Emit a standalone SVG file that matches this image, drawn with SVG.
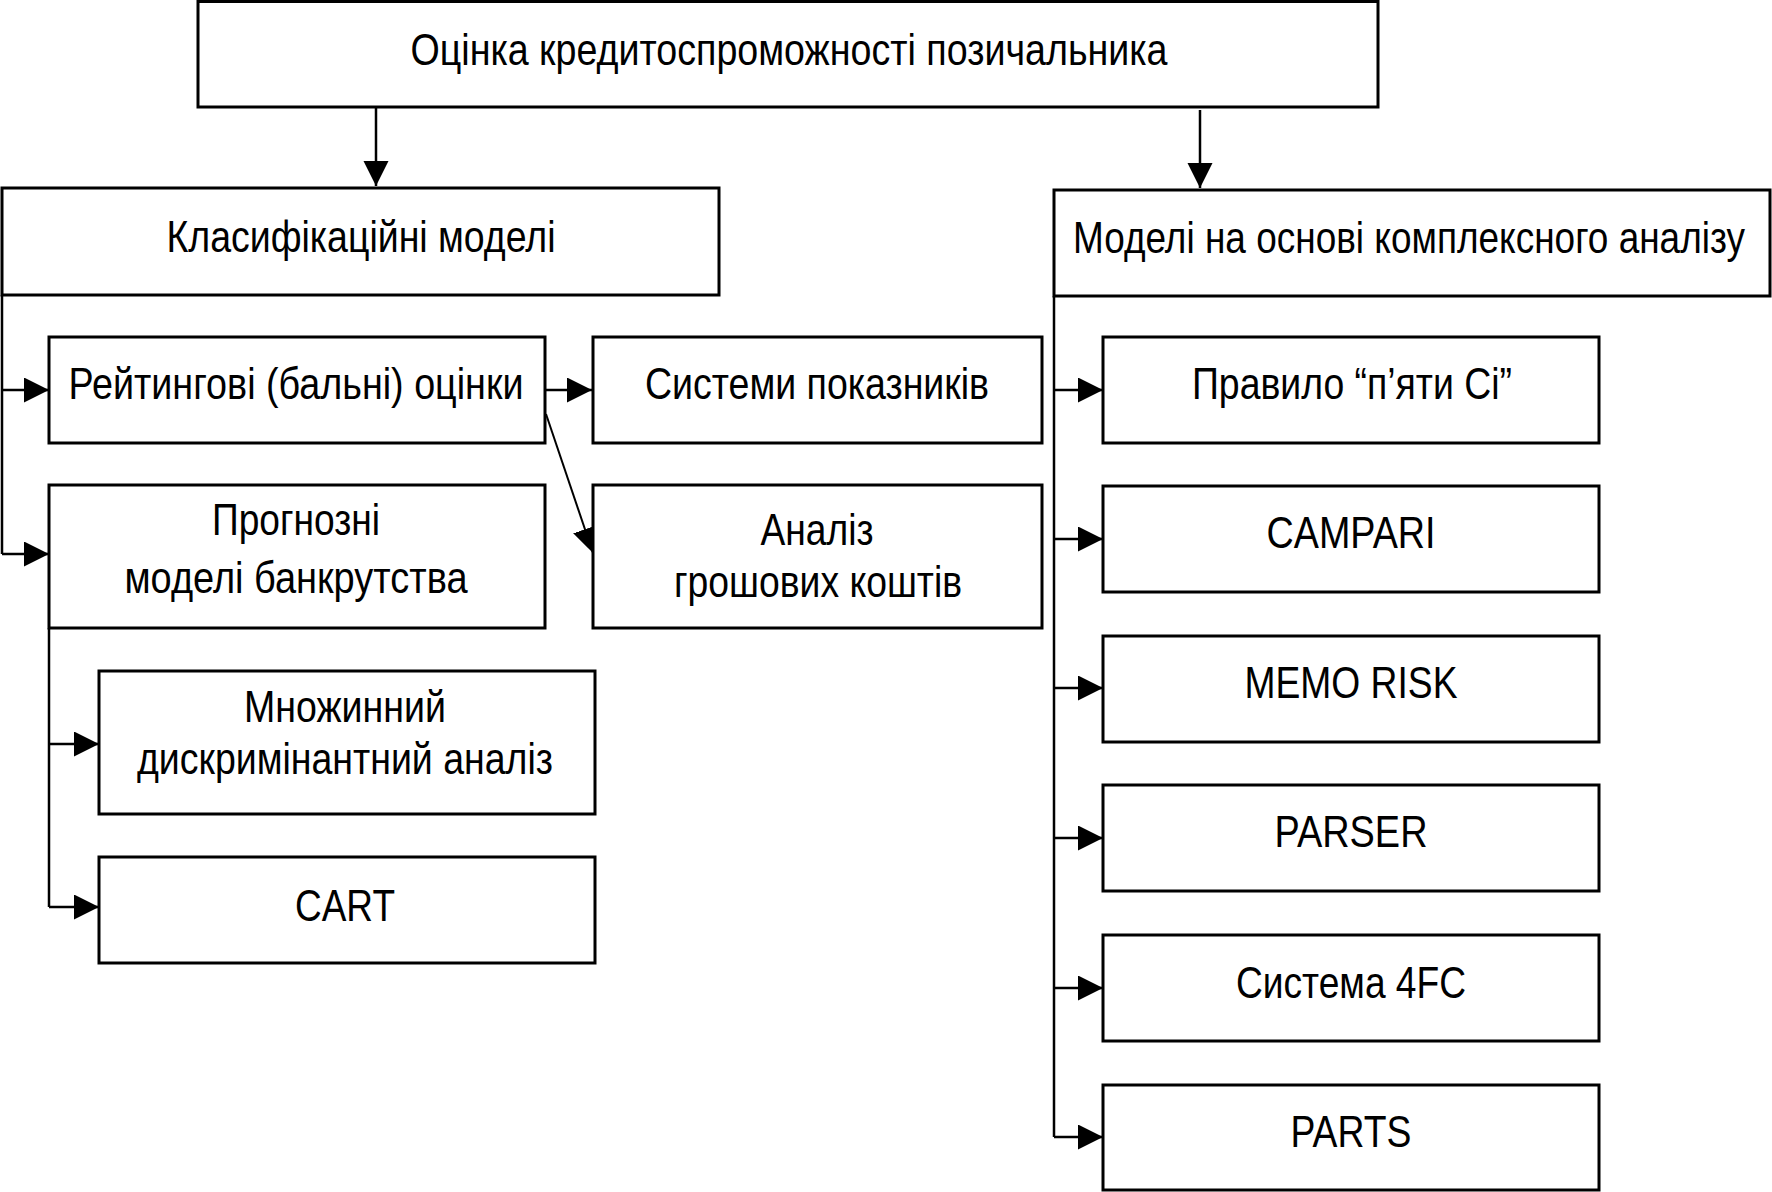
<svg xmlns="http://www.w3.org/2000/svg" width="1772" height="1192" viewBox="0 0 1772 1192">
<style>
.box{fill:#fff;stroke:#000;stroke-width:3}
.t{font-family:"Liberation Sans Narrow","Liberation Sans",Arial,sans-serif;font-size:45px;fill:#000;text-anchor:middle}
.c{fill:none;stroke:#000;stroke-width:2.5}
.d{fill:none;stroke:#000;stroke-width:2}
</style>
<defs>
<marker id="ah" markerUnits="userSpaceOnUse" markerWidth="26" markerHeight="26" refX="25" refY="12.5" orient="auto" viewBox="0 0 26 26">
<path d="M0,0 L25,12.5 L0,25 Z" fill="#000"/>
</marker>
</defs>
<rect width="1772" height="1192" fill="#fff"/>
<g id="connectors">
<line class="c" x1="376" y1="107" x2="376" y2="186" marker-end="url(#ah)"/>
<line class="c" x1="1200" y1="110" x2="1200" y2="188" marker-end="url(#ah)"/>
<polyline class="c" points="2,295 2,554"/>
<line class="c" x1="2" y1="390" x2="49" y2="390" marker-end="url(#ah)"/>
<line class="c" x1="2" y1="554" x2="49" y2="554" marker-end="url(#ah)"/>
<line class="c" x1="545" y1="390" x2="592" y2="390" marker-end="url(#ah)"/>
<line class="d" x1="546" y1="414" x2="593" y2="553" marker-end="url(#ah)"/>
<polyline class="c" points="49,628 49,907"/>
<line class="c" x1="49" y1="744" x2="99" y2="744" marker-end="url(#ah)"/>
<line class="c" x1="49" y1="907" x2="99" y2="907" marker-end="url(#ah)"/>
<polyline class="c" points="1054,296 1054,1137"/>
<line class="c" x1="1054" y1="390" x2="1103" y2="390" marker-end="url(#ah)"/>
<line class="c" x1="1054" y1="539" x2="1103" y2="539" marker-end="url(#ah)"/>
<line class="c" x1="1054" y1="688" x2="1103" y2="688" marker-end="url(#ah)"/>
<line class="c" x1="1054" y1="838" x2="1103" y2="838" marker-end="url(#ah)"/>
<line class="c" x1="1054" y1="988" x2="1103" y2="988" marker-end="url(#ah)"/>
<line class="c" x1="1054" y1="1137" x2="1103" y2="1137" marker-end="url(#ah)"/>
</g>
<g id="root">
<rect class="box" x="198" y="1.5" width="1180" height="105.5"/>
<text class="t" x="789" y="65" textLength="757" lengthAdjust="spacingAndGlyphs">Оцінка кредитоспроможності позичальника</text>
</g>
<g id="classif">
<rect class="box" x="2" y="188" width="717" height="107"/>
<text class="t" x="361" y="252" textLength="389" lengthAdjust="spacingAndGlyphs">Класифікаційні моделі</text>
</g>
<g id="complex">
<rect class="box" x="1054" y="190" width="716" height="106"/>
<text class="t" x="1409" y="253" textLength="672" lengthAdjust="spacingAndGlyphs">Моделі на основі комплексного аналізу</text>
</g>
<g id="rating">
<rect class="box" x="49" y="337" width="496" height="106"/>
<text class="t" x="296" y="399" textLength="455" lengthAdjust="spacingAndGlyphs">Рейтингові (бальні) оцінки</text>
</g>
<g id="systems">
<rect class="box" x="593" y="337" width="449" height="106"/>
<text class="t" x="817" y="399" textLength="344" lengthAdjust="spacingAndGlyphs">Системи показників</text>
</g>
<g id="bankrupt">
<rect class="box" x="49" y="485" width="496" height="143"/>
<text class="t" x="296" y="535" textLength="168" lengthAdjust="spacingAndGlyphs">Прогнозні</text>
<text class="t" x="296" y="593" textLength="343" lengthAdjust="spacingAndGlyphs">моделі банкрутства</text>
</g>
<g id="cashflow">
<rect class="box" x="593" y="485" width="449" height="143"/>
<text class="t" x="817" y="545" textLength="113" lengthAdjust="spacingAndGlyphs">Аналіз</text>
<text class="t" x="818" y="597" textLength="288" lengthAdjust="spacingAndGlyphs">грошових коштів</text>
</g>
<g id="mda">
<rect class="box" x="99" y="671" width="496" height="143"/>
<text class="t" x="345" y="722" textLength="202" lengthAdjust="spacingAndGlyphs">Множинний</text>
<text class="t" x="345" y="774" textLength="416" lengthAdjust="spacingAndGlyphs">дискримінантний аналіз</text>
</g>
<g id="cart">
<rect class="box" x="99" y="857" width="496" height="106"/>
<text class="t" x="345" y="921" textLength="100" lengthAdjust="spacingAndGlyphs">CART</text>
</g>
<g id="fivec">
<rect class="box" x="1103" y="337" width="496" height="106"/>
<text class="t" x="1352" y="399" textLength="320" lengthAdjust="spacingAndGlyphs">Правило “п’яти Сі”</text>
</g>
<g id="campari">
<rect class="box" x="1103" y="486" width="496" height="106"/>
<text class="t" x="1351" y="548" textLength="169" lengthAdjust="spacingAndGlyphs">CAMPARI</text>
</g>
<g id="memorisk">
<rect class="box" x="1103" y="636" width="496" height="106"/>
<text class="t" x="1351" y="698" textLength="213" lengthAdjust="spacingAndGlyphs">MEMO RISK</text>
</g>
<g id="parser">
<rect class="box" x="1103" y="785" width="496" height="106"/>
<text class="t" x="1351" y="847" textLength="153" lengthAdjust="spacingAndGlyphs">PARSER</text>
</g>
<g id="fourfc">
<rect class="box" x="1103" y="935" width="496" height="106"/>
<text class="t" x="1351" y="998" textLength="230" lengthAdjust="spacingAndGlyphs">Система 4FC</text>
</g>
<g id="parts">
<rect class="box" x="1103" y="1085" width="496" height="105"/>
<text class="t" x="1351" y="1147" textLength="121" lengthAdjust="spacingAndGlyphs">PARTS</text>
</g>
</svg>
